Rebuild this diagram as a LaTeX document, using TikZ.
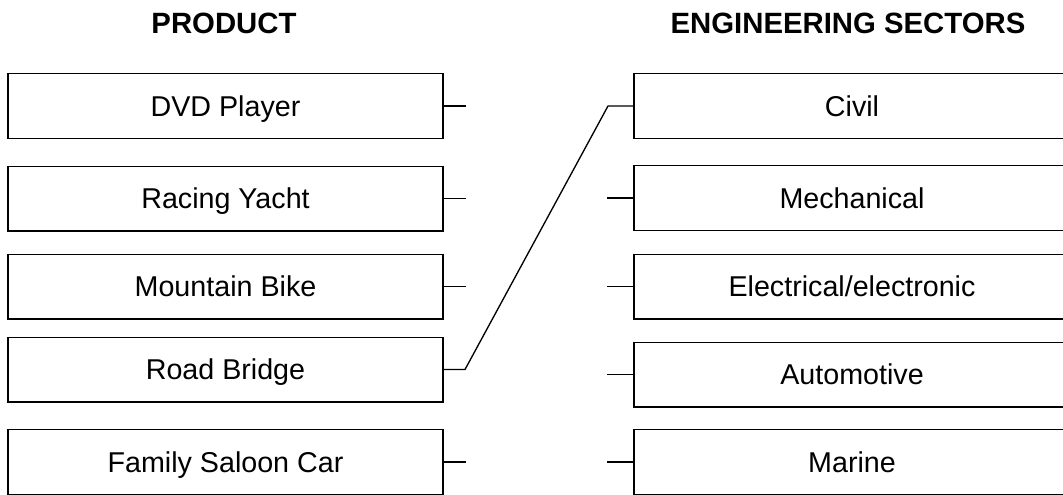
\documentclass[tikz,border=0pt]{standalone}
\usepackage{amsmath}
\usepackage{amssymb}
\usepackage{fontspec}
\setmainfont{Liberation Sans}

\begin{document}
\begin{tikzpicture}[x=0.75pt,y=0.75pt,yscale=-1,xscale=1,
  prodbox/.style={draw, line width=1pt, minimum width=326.25pt, minimum height=48.5pt, inner sep=0pt, font=\fontsize{21.5}{26}\selectfont, text height=17pt, text depth=1.6pt},
  sectbox/.style={prodbox, minimum width=327pt},
  head/.style={anchor=base, inner sep=0.75pt, font=\fontsize{22}{26}\selectfont\bfseries},
  stub/.style={line width=1pt}]
%uncomment if require: \path (0,494); %set diagram left start at 0, and has height of 494
\useasboundingbox (0,0) rectangle (1063,494);

% Text Node
\node[head] (hprod) at (224,33) {PRODUCT};
% Text Node
\node[head] (hsect) at (848,33) {ENGINEERING SECTORS};

%Shape: Rectangle [products]
\node[prodbox] (dvd) at (225.5,106) {DVD Player};
\node[prodbox] (yacht) at (225.5,198.5) {Racing Yacht};
\node[prodbox] (bike) at (225.5,286.5) {Mountain Bike};
\node[prodbox] (bridge) at (225.5,369.5) {Road Bridge};
\node[prodbox] (car) at (225.5,462) {Family Saloon Car};

%Shape: Rectangle [sectors]
\node[sectbox] (civil) at (852,106) {Civil};
\node[sectbox] (mech) at (852,198) {Mechanical};
\node[sectbox] (elec) at (852,286.5) {Electrical/electronic};
\node[sectbox] (auto) at (852,374.5) {Automotive};
\node[sectbox] (marine) at (852,462) {Marine};

%Straight Lines [stubs]
\draw[stub] (dvd.east) -- ++(22,0);
\draw[stub] (yacht.east) -- ++(22,0);
\draw[stub] (bike.east) -- ++(22,0);
\draw[stub] (car.east) -- ++(22,0);
\draw[stub] (mech.west) -- ++(-26,0);
\draw[stub] (elec.west) -- ++(-26,0);
\draw[stub] (auto.west) -- ++(-26,0);
\draw[stub] (marine.west) -- ++(-26,0);

%Straight Lines [answer]
\coordinate (rbend) at (465,369.5);
\coordinate (cvend) at (608,106);
\draw[stub] (bridge.east) -- (rbend) -- (cvend) -- (civil.west);

\end{tikzpicture}
\end{document}
